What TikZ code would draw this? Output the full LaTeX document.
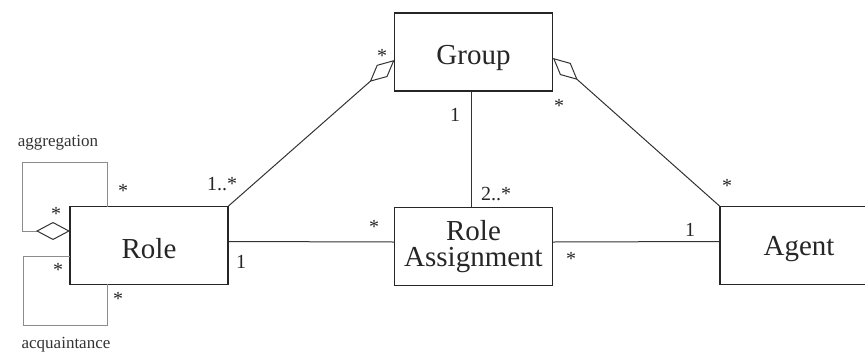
\documentclass[tikz,border=0pt]{standalone}
\usepackage{fontspec}
\setmainfont{Liberation Serif}
\usetikzlibrary{arrows.meta,calc}
\newcommand{\lowered}[2]{\raisebox{-#1}[\height][\depth]{#2}}
\begin{document}
\begin{tikzpicture}[x=1pt,y=-1pt,
 box/.style={draw=black!85,line width=1.1pt,inner sep=0pt,minimum width=158pt,minimum height=78pt,font=\fontsize{29}{26}\selectfont,align=center,text=black!85},
 conn/.style={draw=black!80,line width=1pt},
 loopl/.style={draw=black!45,line width=1pt},
 dia/.tip={Diamond[open,length=33pt,width=16pt,line width=1pt,color=black!80]},
 diab/.tip={Diamond[open,length=34pt,width=18pt,line width=1pt,color=black!80]},
 mult/.style={font=\fontsize{20}{20}\selectfont,inner sep=0pt,text=black!85},
 lbl/.style={font=\fontsize{17}{17}\selectfont,inner sep=0pt,text=black!80}]
\useasboundingbox (0,0) rectangle (865,354);
\clip (0,0) rectangle (865,354);

% classes
\node[box] (r)  at (149,245.5) {\lowered{3pt}{Role}};
\node[box] (g)  at (473.5,52)  {\lowered{6pt}{Group}};
\node[box] (ra) at (473.5,246.5) {Role\\Assignment};
\node[box] (ag) at (799,245.5) {\lowered{4pt}{Agent}};

% free ends
\coordinate (gl) at (394.5,60);
\coordinate (gr) at (553,58);
\coordinate (aggtop) at (107,207);
\coordinate (aggend) at (70,231);
\coordinate (acqst) at (70,256);
\coordinate (acqend) at (107,284);

% associations
\draw[conn,{dia}-] (gl) -- (r.north east);
\draw[conn,{dia}-] (gr) -- (ag.north west);
\draw[conn] ([xshift=-2.5pt]g.south) -- ([xshift=-2.5pt]ra.north);
\draw[conn] ([yshift=4pt]r.east) -- ([yshift=4.5pt]ra.west);
\draw[conn] ([yshift=4.5pt]ra.east) -- ([yshift=4pt]ag.west);

% self loops
\draw[loopl,-{diab}] (aggtop) |- (22,162) |- (aggend);
\draw[loopl] (acqst) -| (23,325) -| (acqend);

% multiplicities
\node[mult] (m1) at (123,191) {*};
\node[mult] (m2) at (56,214) {*};
\node[mult] (m3) at (58,270) {*};
\node[mult] (m4) at (118,299) {*};
\node[mult] (m5) at (222,184) {1..*};
\node[mult] (m6) at (382,56) {*};
\node[mult] (m7) at (455,115) {1};
\node[mult] (m8) at (496,194) {2..*};
\node[mult] (m9) at (559,106) {*};
\node[mult] (m10) at (727,186) {*};
\node[mult] (m11) at (374,227) {*};
\node[mult] (m12) at (241,262) {1};
\node[mult] (m13) at (571,259) {*};
\node[mult] (m14) at (690,230) {1};

% loop names
\node[lbl] (l1) at (58,143) {aggregation};
\node[lbl] (l2) at (66,345) {acquaintance};
\end{tikzpicture}
\end{document}
